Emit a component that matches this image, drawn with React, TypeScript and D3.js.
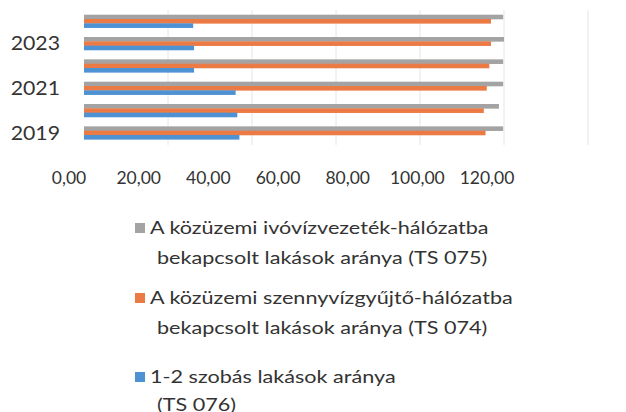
import React from "react";
import * as d3 from "d3";

const years = ["2019", "2020", "2021", "2022", "2023", "2024"];
const shownYears = ["2019", "2021", "2023"];
const waterSupply = [99.8, 98.8, 99.8, 99.8, 100.0, 99.8]; // TS 075
const sewerage = [95.6, 95.2, 95.9, 96.5, 96.9, 96.9]; // TS 074
const smallFlats = [37.0, 36.5, 36.1, 26.2, 26.2, 26.0]; // TS 076
const xTicks = [0, 20, 40, 60, 80, 100, 120];

const seriesNames = [
  ["A közüzemi ivóvízvezeték-hálózatba", "bekapcsolt lakások aránya (TS 075)"],
  ["A közüzemi szennyvízgyűjtő-hálózatba", "bekapcsolt lakások aránya (TS 074)"],
  ["1-2 szobás lakások aránya", "(TS 076)"],
];
const colors = ["#a3a3a3", "#ec7a45", "#4f92d3"];

const W = 626;
const H = 412;
const FONT = "Lato, 'Open Sans', sans-serif";

export default function App() {
  const x = d3.scaleLinear().domain([0, 120]).range([84, 588]);
  const xLabel = d3.scaleLinear().domain([0, 120]).range([69, 487]);
  const y = d3
    .scaleBand<string>()
    .domain([...years].reverse())
    .range([10, 144])
    .paddingInner(0.42)
    .paddingOuter(0.21);
  const inner = d3
    .scaleBand<number>()
    .domain([0, 1, 2])
    .range([0, y.bandwidth()]);
  const series = [waterSupply, sewerage, smallFlats];

  const legendRows = [
    { y1: 234, y2: 264 },
    { y1: 304, y2: 334 },
    { y1: 383, y2: 411 },
  ];
  const legendScale = 1.2;

  return (
    <svg
      width={W}
      height={H}
      style={{ position: "absolute", left: 0, top: 0, background: "#fff" }}
    >
      <rect width={W} height={H} fill="#fff" />
      {xTicks.slice(1).map((t) => (
        <line
          key={t}
          x1={x(t)}
          x2={x(t)}
          y1={10}
          y2={145}
          stroke="#e6e6e6"
          strokeWidth={1}
        />
      ))}
      {series.map((vals, si) =>
        years.map((yr, i) => (
          <rect
            key={si + "-" + yr}
            x={x(0)}
            y={(y(yr) as number) + (inner(si) as number)}
            width={x(vals[i]) - x(0)}
            height={inner.bandwidth() + 0.3}
            fill={colors[si]}
          />
        ))
      )}
      {shownYears.map((yr) => (
        <text
          key={yr}
          transform={`translate(60,${(y(yr) as number) + y.bandwidth() / 2 + 6.7}) scale(1.15,1)`}
          textAnchor="end"
          fontFamily={FONT}
          fontSize={18.5}
          fill="#333"
        >
          {yr}
        </text>
      ))}
      {xTicks.map((t) => (
        <text
          key={t}
          x={xLabel(t)}
          y={184}
          textAnchor="middle"
          fontFamily={FONT}
          fontSize={17.5}
          fill="#333"
        >
          {d3.format(".2f")(t).replace(".", ",")}
        </text>
      ))}
      {seriesNames.map((lines, i) => (
        <g key={i}>
          <rect
            x={135}
            y={legendRows[i].y1 - 11}
            width={10}
            height={10}
            fill={colors[i]}
          />
          <text
            transform={`translate(150,${legendRows[i].y1}) scale(${legendScale},1)`}
            fontFamily={FONT}
            fontSize={18}
            fill="#333"
          >
            {lines[0]}
          </text>
          <text
            transform={`translate(157,${legendRows[i].y2}) scale(${legendScale},1)`}
            fontFamily={FONT}
            fontSize={18}
            fill="#333"
          >
            {lines[1]}
          </text>
        </g>
      ))}
    </svg>
  );
}
